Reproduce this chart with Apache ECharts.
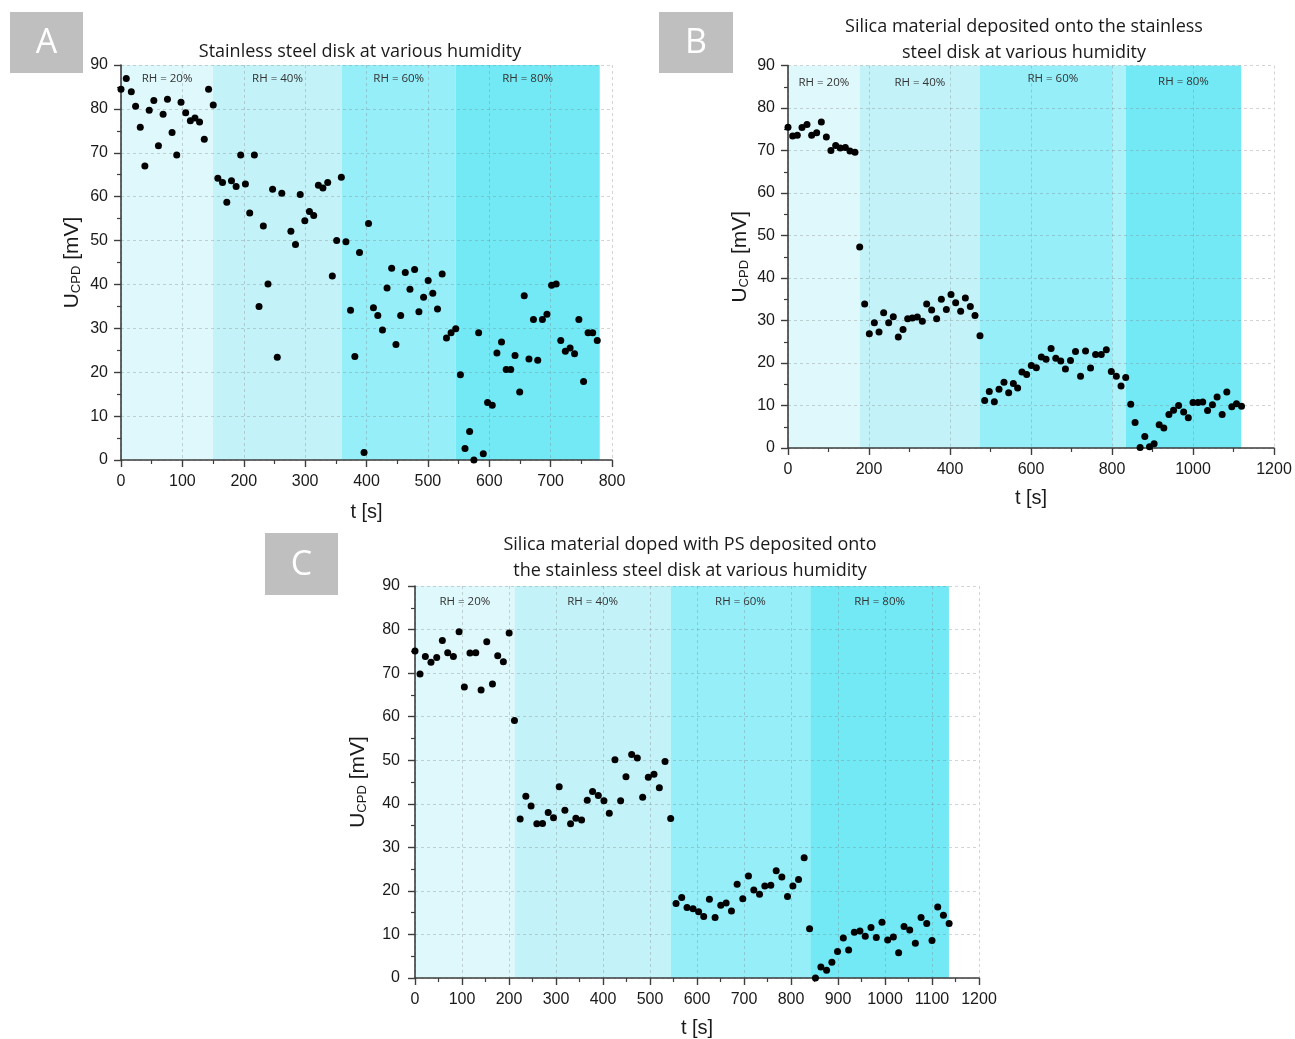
<!DOCTYPE html>
<html>
<head>
<meta charset="utf-8">
<title>Contact potential difference at various humidity</title>
<script src="https://cdn.jsdelivr.net/npm/echarts@6/dist/echarts.min.js"></script>
<style>
  html, body { margin: 0; padding: 0; background: #ffffff; }
  #chart { width: 1295px; height: 1039px; }
</style>
</head>
<body>
<div id="chart"></div>
<script>
// ---- Measurements: time [s] and U_CPD [mV] ----

// A: stainless steel disk
const timeA = [0, 8.6, 16.8, 23.8, 31.4, 38.9, 46, 53.5, 61, 68.6, 75.7, 83.2, 90.8, 97.8, 105.4, 113, 120.5, 128, 135.7, 142.7,
  150.3, 157.8, 165.4, 172.4, 180, 187.6, 195, 202.7, 209.7, 217.3, 224.9, 231.9, 239.5, 247, 254.6, 262, 276.8, 284.3, 292, 299.5,
  307, 314, 321.6, 329, 336.8, 344.3, 351.4, 359, 366.5, 374, 381, 388.6, 396, 403.3, 411.3, 418.4, 426, 433.5, 441, 448,
  455.7, 463.2, 470.8, 478.4, 485.4, 493, 500.5, 508, 515.7, 523.3, 530.3, 537.8, 545.4, 553, 560.5, 568, 575, 582.7, 590.3, 597.3,
  604.9, 612.5, 620, 627.6, 635, 642, 649.6, 657, 664.7, 672, 679, 686.6, 694, 701.6, 709, 716.5, 724, 731.7, 739, 746,
  753.7, 761, 768.5, 776];
const ucpdA = [84.5, 86.9, 83.9, 80.6, 75.8, 67.0, 79.7, 81.9, 71.6, 78.8, 82.2, 74.6, 69.5, 81.5, 79.1, 77.3, 77.9, 77.0, 73.1, 84.5,
  80.9, 64.2, 63.2, 58.7, 63.6, 62.3, 69.5, 62.9, 56.3, 69.5, 35.0, 53.3, 40.1, 61.7, 23.4, 60.8, 52.1, 49.1, 60.5, 54.5,
  56.6, 55.7, 62.6, 62.0, 63.2, 41.9, 50.0, 64.4, 49.7, 34.1, 23.6, 47.3, 1.7, 53.9, 34.7, 32.9, 29.6, 39.2, 43.7, 26.3,
  32.9, 42.7, 38.9, 43.4, 33.8, 37.1, 40.9, 38.0, 34.4, 42.4, 27.8, 29.0, 29.9, 19.4, 2.6, 6.5, 0.0, 29.0, 1.4, 13.1,
  12.5, 24.4, 26.9, 20.6, 20.6, 23.8, 15.5, 37.4, 23.0, 32.0, 22.7, 32.0, 33.2, 39.8, 40.1, 27.2, 24.8, 25.5, 24.2, 32.0,
  17.9, 29.0, 29.0, 27.2];

// B: silica material deposited onto the stainless steel disk
const timeB = [0, 11.5, 23, 34.6, 46.9, 58.4, 70.8, 82.3, 94.7, 106, 117.7, 129, 141.6, 153, 165.4, 177, 189.3, 200.8, 213.2, 224.7,
  236.2, 248.6, 260, 272.4, 284, 295.5, 307, 319.3, 331.7, 342.4, 354.7, 367, 378.6, 391, 402.5, 414, 426.3, 437.9, 450.2, 461.7,
  474, 485.6, 497, 509.5, 521, 533.3, 544.9, 556.4, 567, 577.7, 589.3, 600.8, 613.2, 625.6, 637.2, 649.6, 661.2, 673.5, 685, 697.5,
  709.9, 722.3, 734.7, 747, 759.5, 773.5, 786, 798.3, 810.7, 822.3, 833.9, 846.3, 857, 869.4, 881, 892.6, 904, 916.5, 928, 940.5,
  952, 964.5, 976.9, 988.4, 1000, 1012.4, 1024, 1036, 1048, 1059.5, 1072, 1083.5, 1095.9, 1107.4, 1119.8];
const ucpdB = [75.5, 73.4, 73.6, 75.4, 76.1, 73.6, 74.2, 76.7, 73.2, 70.0, 71.2, 70.6, 70.7, 69.9, 69.6, 47.3, 33.9, 26.9, 29.5, 27.3,
  31.8, 29.5, 30.9, 26.1, 27.9, 30.4, 30.6, 30.8, 29.8, 33.9, 32.5, 30.4, 35.0, 32.6, 36.1, 34.2, 32.2, 35.3, 33.3, 31.2,
  26.4, 11.2, 13.3, 10.9, 13.8, 15.5, 13.0, 15.2, 14.1, 17.9, 17.3, 19.4, 18.9, 21.4, 20.9, 23.4, 21.1, 20.5, 18.6, 20.6,
  22.7, 16.9, 22.8, 18.8, 22.0, 22.0, 23.1, 18.0, 16.9, 14.6, 16.6, 10.3, 6.0, 0.1, 2.7, 0.3, 1.0, 5.5, 4.7, 7.9,
  8.9, 10.0, 8.5, 7.1, 10.7, 10.7, 10.8, 8.8, 10.2, 12.0, 7.9, 13.2, 9.7, 10.4, 9.8];

// C: silica material doped with PS deposited onto the stainless steel disk
const timeC = [0, 10.7, 22, 34, 46.2, 58.2, 69.6, 81.7, 93.8, 105, 117, 129.3, 140.6, 152.7, 164.8, 176, 188, 200.3, 211.6, 223.7,
  235.8, 247, 259.2, 271.3, 283.4, 294.7, 306.8, 318.9, 331, 342.3, 354.4, 366.5, 377.8, 390, 402, 413.4, 425.4, 437.5, 448.9, 461,
  473, 484.4, 496.4, 508.5, 519.9, 532, 544, 555.4, 567.5, 578.8, 591.6, 603.4, 614.3, 626.4, 638.5, 650.6, 662, 673.3, 685.4, 697.4,
  709.5, 720.9, 733, 744.3, 757, 768.5, 780.5, 792.6, 804, 816, 828, 839.5, 852, 863.6, 875.7, 887, 899, 911.3, 922.6, 934.7,
  946.7, 958, 970.2, 981.5, 993.6, 1005.7, 1017.8, 1029, 1040.5, 1052.6, 1064.6, 1076.7, 1088.8, 1100, 1112.2, 1124.3, 1136.4];
const ucpdC = [75.1, 69.8, 73.8, 72.5, 73.6, 77.5, 74.7, 73.8, 79.5, 66.8, 74.6, 74.7, 66.1, 77.2, 67.5, 74.0, 72.6, 79.2, 59.1, 36.5,
  41.7, 39.5, 35.4, 35.5, 38.0, 36.8, 43.9, 38.5, 35.4, 36.7, 36.3, 40.8, 42.8, 41.9, 40.7, 37.8, 50.1, 40.7, 46.2, 51.3,
  50.5, 41.5, 46.1, 46.8, 43.7, 49.7, 36.6, 17.1, 18.5, 16.2, 15.9, 15.2, 14.1, 18.1, 13.9, 16.7, 17.2, 15.4, 21.5, 18.2,
  23.4, 20.2, 19.2, 21.1, 21.3, 24.6, 23.2, 18.7, 21.1, 22.6, 27.6, 11.3, 0.0, 2.5, 1.8, 3.6, 6.1, 9.2, 6.4, 10.5,
  10.8, 9.6, 11.6, 9.3, 12.8, 8.7, 9.4, 5.8, 11.8, 11.0, 8.0, 13.9, 12.5, 8.6, 16.3, 14.4, 12.5];

// Humidity steps: time boundaries [s] of each RH interval
const rhLabels = ['RH = 20%', 'RH = 40%', 'RH = 60%', 'RH = 80%'];
const rhEdgesA = [0, 150, 360, 545, 780];
const rhEdgesB = [0, 177, 474, 834, 1119];
const rhEdgesC = [0, 212, 544, 841, 1136];
const transitionB = [800, 834];   // short transition span inside RH = 60% of run B

// Axis ticks
const uTicks = { min: 0, max: 90, interval: 10 };
const tTicksA = { min: 0, max: 800, interval: 100 };
const tTicksB = { min: 0, max: 1200, interval: 200 };
const tTicksC = { min: 0, max: 1200, interval: 100 };

const panelTitles = [
  'Stainless steel disk at various humidity',
  'Silica material deposited onto the stainless\nsteel disk at various humidity',
  'Silica material doped with PS deposited onto\nthe stainless steel disk at various humidity'
];
const panelLetters = ['A', 'B', 'C'];

// ---- Styling ----
const bandColors = ['#dff8fb', '#c3f2f8', '#96eef8', '#72e9f5'];
const numFont = 'Liberation Sans';
const textFont = 'Open Sans';
const axisColor = '#3d3d3d';
const inkColor = '#1a1a1a';

function pairs(ts, vs) { return ts.map((t, i) => [t, vs[i]]); }

function bandAreas(edges, labelDistances, extra) {
  const areas = [];
  for (let i = 0; i < edges.length - 1; i++) {
    areas.push([
      {
        name: rhLabels[i],
        xAxis: edges[i],
        itemStyle: { color: bandColors[i], opacity: 1 },
        label: { distance: labelDistances[i] }
      },
      { xAxis: edges[i + 1] }
    ]);
  }
  if (extra) areas.push(extra);
  return areas;
}

function xAxisOf(grid, ticks, nameGap) {
  return {
    gridIndex: grid, type: 'value', min: ticks.min, max: ticks.max, interval: ticks.interval,
    z: 1.5,
    name: 't [s]', nameLocation: 'middle', nameGap: nameGap,
    nameTextStyle: { fontFamily: numFont, fontSize: 20, color: inkColor },
    axisLine: { show: true, onZero: false, lineStyle: { color: axisColor, width: 1.6 } },
    axisTick: { show: true, length: 7, lineStyle: { color: axisColor, width: 1.4 } },
    minorTick: { show: true, splitNumber: 2, length: 4, lineStyle: { color: axisColor, width: 1.2 } },
    axisLabel: { fontFamily: numFont, fontSize: 16, color: inkColor, margin: 14, formatter: v => String(v) },
    splitLine: { show: true, lineStyle: { color: 'rgba(120,120,120,0.32)', width: 1, type: [3, 3] } }
  };
}

function yAxisOf(grid, nameGap, labelMargin) {
  return {
    gridIndex: grid, type: 'value', min: uTicks.min, max: uTicks.max, interval: uTicks.interval,
    z: 1.5,
    name: '{u|U}{s|CPD}{u| [mV]}', nameLocation: 'middle', nameGap: nameGap, nameRotate: 90,
    nameTextStyle: {
      rich: {
        u: { fontFamily: numFont, fontSize: 21, color: inkColor, lineHeight: 22 },
        s: { fontFamily: numFont, fontSize: 13, color: inkColor, lineHeight: 10, verticalAlign: 'bottom' }
      }
    },
    axisLine: { show: true, onZero: false, lineStyle: { color: axisColor, width: 1.6 } },
    axisTick: { show: true, length: 7, lineStyle: { color: axisColor, width: 1.4 } },
    minorTick: { show: true, splitNumber: 2, length: 4, lineStyle: { color: axisColor, width: 1.2 } },
    axisLabel: { fontFamily: numFont, fontSize: 16, color: inkColor, margin: labelMargin },
    splitLine: { show: true, lineStyle: { color: 'rgba(120,120,120,0.32)', width: 1, type: [3, 3] } }
  };
}

function scatterOf(idx, data, areas) {
  return {
    type: 'scatter', xAxisIndex: idx, yAxisIndex: idx, data: data,
    symbol: 'circle', symbolSize: 7, z: 3,
    itemStyle: { color: '#000000', opacity: 1 },
    markArea: {
      silent: true, z: 1,
      label: { show: true, position: 'insideTop', fontFamily: textFont, fontSize: 11.5, color: '#333333' },
      data: areas
    }
  };
}

function letterBox(letter, x, y, w, h) {
  return [
    { type: 'rect', shape: { x: x, y: y, width: w, height: h }, style: { fill: '#bfbfbf' } },
    { type: 'text', x: x + w / 2, y: y + h / 2 + 1,
      style: { text: letter, fill: '#ffffff', fontFamily: textFont, fontSize: 34, align: 'center', verticalAlign: 'middle' } }
  ];
}

function titleOf(text, cx, top, lineHeight) {
  return {
    text: text, left: cx, top: top, textAlign: 'center', padding: 0,
    textStyle: { fontFamily: textFont, fontSize: 18, fontWeight: 'normal', color: inkColor, lineHeight: lineHeight }
  };
}

const chart = echarts.init(document.getElementById('chart'), null, { renderer: 'canvas' });

chart.setOption({
  animation: false,
  backgroundColor: '#ffffff',
  title: [
    titleOf(panelTitles[0], 360, 41, 22),
    titleOf(panelTitles[1], 1024, 14, 26),
    titleOf(panelTitles[2], 690, 532, 26)
  ],
  grid: [
    { left: 121, top: 65, width: 491, height: 395 },
    { left: 788, top: 65.5, width: 486, height: 382.5 },
    { left: 415, top: 586, width: 564, height: 392 }
  ],
  xAxis: [
    xAxisOf(0, tTicksA, 42),
    xAxisOf(1, tTicksB, 40),
    xAxisOf(2, tTicksC, 40)
  ],
  yAxis: [
    yAxisOf(0, 38, 13),
    yAxisOf(1, 37, 13),
    yAxisOf(2, 46, 15)
  ],
  series: [
    scatterOf(0, pairs(timeA, ucpdA), bandAreas(rhEdgesA, [8, 8, 8, 8])),
    scatterOf(1, pairs(timeB, ucpdB), bandAreas(rhEdgesB, [11, 11, 7, 10], [
      { xAxis: transitionB[0], itemStyle: { color: 'rgba(255,255,255,0.22)' }, label: { show: false } },
      { xAxis: transitionB[1] }
    ])),
    scatterOf(2, pairs(timeC, ucpdC), bandAreas(rhEdgesC, [10, 10, 10, 10]))
  ],
  graphic: [].concat(
    letterBox(panelLetters[0], 10, 12, 73, 61),
    letterBox(panelLetters[1], 659, 12, 74, 61),
    letterBox(panelLetters[2], 265, 533, 73, 62)
  )
});
</script>
</body>
</html>
